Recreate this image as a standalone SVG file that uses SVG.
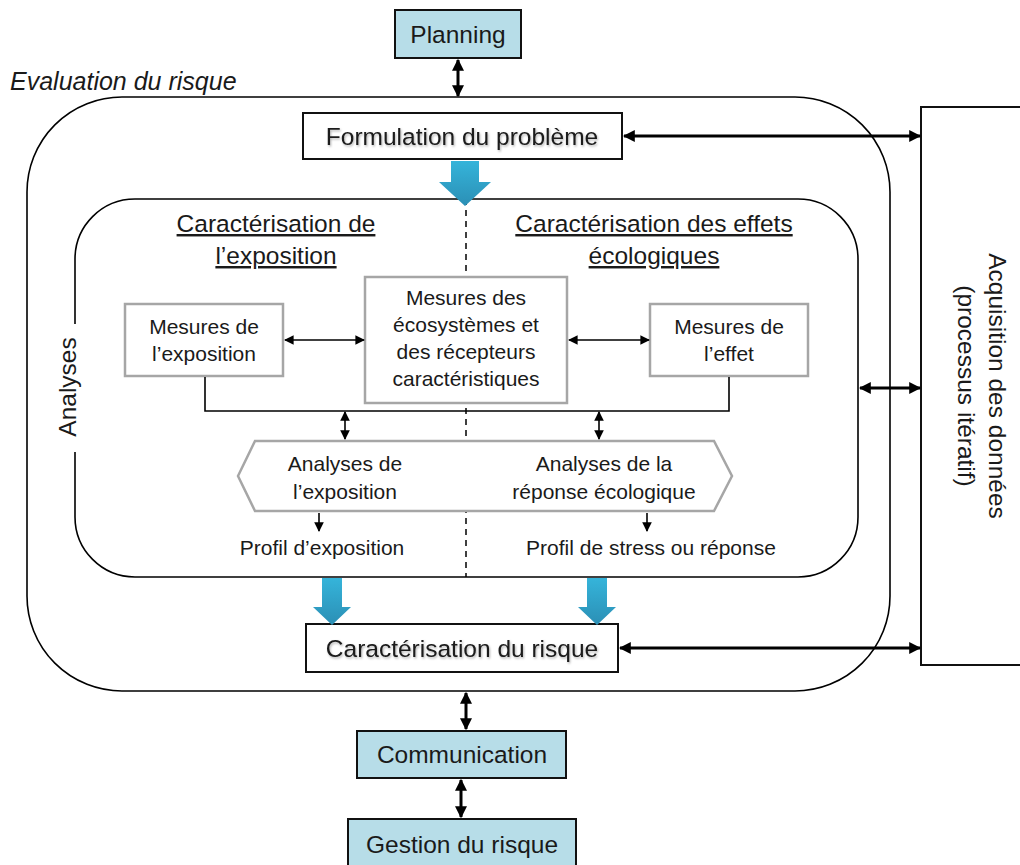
<svg xmlns="http://www.w3.org/2000/svg" width="1020" height="865" viewBox="0 0 1020 865">
<style>
text{font-family:"Liberation Sans","Noto Sans",Arial,sans-serif;fill:#1a1a1a}
.t22{font-size:24.5px}
.t19{font-size:21px}
.blue{fill:#b7dde8;stroke:#111;stroke-width:2}
.box{fill:#fff;stroke:#111;stroke-width:2}
.gbox{fill:#fff;stroke:#a6a6a6;stroke-width:2.5}
.thick{stroke:#000;stroke-width:3;fill:none}
.thin{stroke:#000;stroke-width:1.6;fill:none}
.frame{fill:none;stroke:#000;stroke-width:1.6}
.barrow{fill:url(#bg)}
</style>
<defs>
<marker id="hb" viewBox="0 0 10 10" refX="9" refY="5" markerWidth="4" markerHeight="4" orient="auto-start-reverse" markerUnits="strokeWidth">
<path d="M0,0 L10,5 L0,10 Z" fill="#000"/>
</marker>
<marker id="hs" viewBox="0 0 10 10" refX="9" refY="5" markerWidth="6" markerHeight="6" orient="auto-start-reverse" markerUnits="strokeWidth">
<path d="M0,0 L10,5 L0,10 Z" fill="#000"/>
</marker>
<linearGradient id="bg" x1="0" y1="0" x2="0" y2="1">
<stop offset="0" stop-color="#35b4da"/>
<stop offset="1" stop-color="#2b8fb5"/>
</linearGradient>
<filter id="sh" x="-10%" y="-30%" width="120%" height="160%">
<feDropShadow dx="1" dy="1.5" stdDeviation="1" flood-color="#000" flood-opacity="0.3"/>
</filter>
</defs>

<g id="evaluation">
<text x="10" y="90" font-size="25" font-style="italic">Evaluation du risque</text>
<rect x="27" y="97" width="863" height="594" rx="95" ry="95" class="frame"/>
</g>

<g id="analyses">
<rect x="75" y="199" width="783" height="378" rx="60" ry="60" class="frame"/>
<rect x="56" y="324" width="26" height="128" fill="#fff"/>
<text transform="translate(76,387) rotate(-90)" class="t22" text-anchor="middle">Analyses</text>
<line x1="466" y1="199" x2="466" y2="577" stroke="#000" stroke-width="1.5" stroke-dasharray="6,5"/>
<text x="276" y="232" class="t22" text-anchor="middle" text-decoration="underline">Caractérisation de</text>
<text x="276" y="264" class="t22" text-anchor="middle" text-decoration="underline">l’exposition</text>
<text x="654" y="232" class="t22" text-anchor="middle" text-decoration="underline">Caractérisation des effets</text>
<text x="654" y="264" class="t22" text-anchor="middle" text-decoration="underline">écologiques</text>
</g>

<g id="planning">
<rect x="395" y="10" width="126" height="48" class="blue"/>
<text x="458" y="43" class="t22" text-anchor="middle">Planning</text>
</g>

<g id="formulation">
<rect x="303" y="113" width="319" height="46" class="box"/>
<text x="462" y="145" class="t22" text-anchor="middle" filter="url(#sh)">Formulation du problème</text>
</g>

<g id="acquisition">
<rect x="921" y="107" width="110" height="558" class="box"/>
<text transform="translate(989,386) rotate(90)" class="t22" text-anchor="middle">Acquisition des données</text>
<text transform="translate(958,386) rotate(90)" class="t22" text-anchor="middle">(processus itératif)</text>
</g>

<g id="mesures-exposition">
<rect x="125" y="304" width="158" height="72" class="gbox"/>
<text x="204" y="334" class="t19" text-anchor="middle">Mesures de</text>
<text x="204" y="361" class="t19" text-anchor="middle">l’exposition</text>
</g>

<g id="mesures-ecosystemes">
<rect x="365" y="277" width="202" height="126" class="gbox"/>
<text x="466" y="305" class="t19" text-anchor="middle">Mesures des</text>
<text x="466" y="332" class="t19" text-anchor="middle">écosystèmes et</text>
<text x="466" y="359" class="t19" text-anchor="middle">des récepteurs</text>
<text x="466" y="386" class="t19" text-anchor="middle">caractéristiques</text>
</g>

<g id="mesures-effet">
<rect x="650" y="304" width="158" height="72" class="gbox"/>
<text x="729" y="334" class="t19" text-anchor="middle">Mesures de</text>
<text x="729" y="361" class="t19" text-anchor="middle">l’effet</text>
</g>

<g id="analyses-hexagone">
<polygon points="238,476 255,441 714,441 732,476 714,511 255,511" class="gbox"/>
<text x="345" y="471" class="t19" text-anchor="middle">Analyses de</text>
<text x="345" y="499" class="t19" text-anchor="middle">l’exposition</text>
<text x="604" y="471" class="t19" text-anchor="middle">Analyses de la</text>
<text x="604" y="499" class="t19" text-anchor="middle">réponse écologique</text>
</g>

<g id="profil-exposition">
<text x="322" y="555" class="t19" text-anchor="middle">Profil d’exposition</text>
</g>
<g id="profil-stress">
<text x="651" y="555" class="t19" text-anchor="middle">Profil de stress ou réponse</text>
</g>

<g id="caracterisation-risque">
<rect x="306" y="624" width="312" height="48" class="box"/>
<text x="462" y="657" class="t22" text-anchor="middle" filter="url(#sh)">Caractérisation du risque</text>
</g>

<g id="communication">
<rect x="357" y="731" width="209" height="47" class="blue"/>
<text x="462" y="763" class="t22" text-anchor="middle">Communication</text>
</g>

<g id="gestion">
<rect x="348" y="819" width="228" height="52" class="blue"/>
<text x="462" y="853" class="t22" text-anchor="middle">Gestion du risque</text>
</g>

<g id="connectors">
<line x1="458" y1="60" x2="458" y2="96" class="thick" marker-start="url(#hb)" marker-end="url(#hb)"/>
<line x1="624" y1="136" x2="920" y2="136" class="thick" marker-start="url(#hb)" marker-end="url(#hb)"/>
<line x1="860" y1="388" x2="920" y2="388" class="thick" marker-start="url(#hb)" marker-end="url(#hb)"/>
<line x1="620" y1="648" x2="920" y2="648" class="thick" marker-start="url(#hb)" marker-end="url(#hb)"/>
<line x1="466" y1="693" x2="466" y2="729" class="thick" marker-start="url(#hb)" marker-end="url(#hb)"/>
<line x1="461" y1="780" x2="461" y2="817" class="thick" marker-start="url(#hb)" marker-end="url(#hb)"/>
<line x1="285" y1="340" x2="364" y2="340" class="thin" marker-start="url(#hs)" marker-end="url(#hs)"/>
<line x1="569" y1="340" x2="649" y2="340" class="thin" marker-start="url(#hs)" marker-end="url(#hs)"/>
<polyline points="205,377 205,411 729,411 729,377" class="thin"/>
<line x1="345" y1="412" x2="345" y2="439" class="thin" stroke-width="2" marker-start="url(#hs)" marker-end="url(#hs)"/>
<line x1="599" y1="412" x2="599" y2="439" class="thin" stroke-width="2" marker-start="url(#hs)" marker-end="url(#hs)"/>
<line x1="319" y1="513" x2="319" y2="531" class="thin" marker-end="url(#hs)"/>
<line x1="647" y1="513" x2="647" y2="531" class="thin" marker-end="url(#hs)"/>
<path class="barrow" d="M451,161 H479 V182 H491 L465,206 L439,182 H451 Z"/>
<path class="barrow" d="M322,578 H342 V607 H351 L332,625 L313,607 H322 Z"/>
<path class="barrow" d="M587,578 H607 V607 H616 L597,625 L578,607 H587 Z"/>
</g>
</svg>
